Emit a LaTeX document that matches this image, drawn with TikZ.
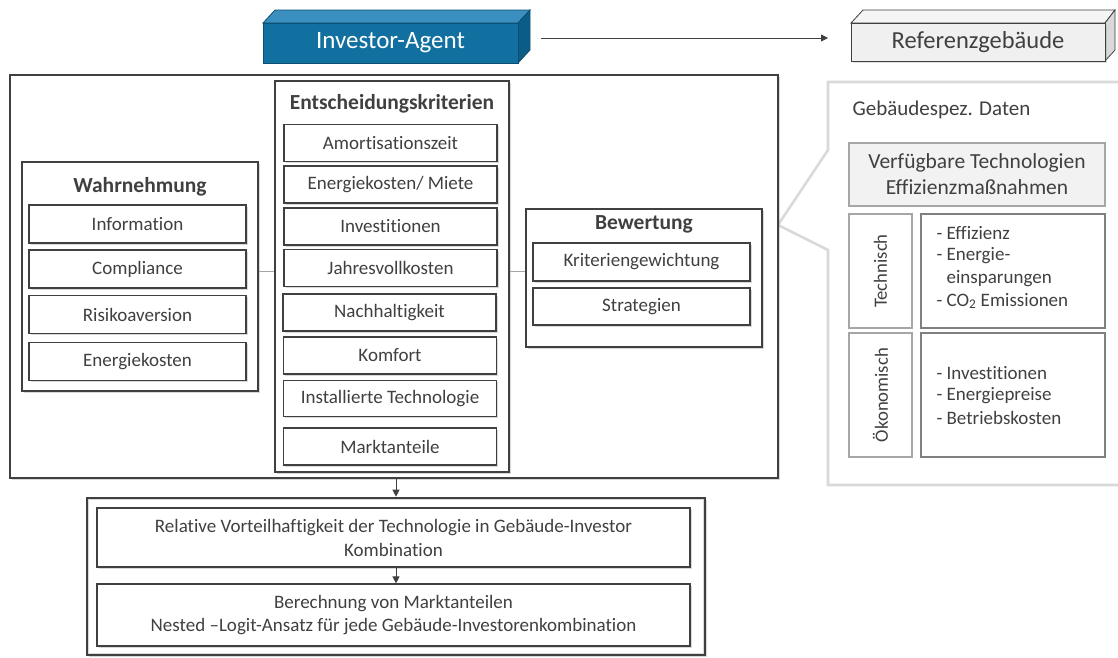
\documentclass[tikz,border=0pt]{standalone}
\usepackage{fontspec}
\setmainfont{Carlito}[Ligatures={NoCommon}]
\usetikzlibrary{arrows.meta,shadows,calc}
\definecolor{dk}{HTML}{404040}
\definecolor{txt}{HTML}{404040}
\definecolor{lgb}{HTML}{D9D9D9}
\definecolor{mgb}{HTML}{A6A6A6}
\definecolor{cgb}{HTML}{808080}
\definecolor{ivfront}{HTML}{1170A0}
\definecolor{ivtop}{HTML}{3A8FBE}
\definecolor{ivside}{HTML}{0B5C86}
\definecolor{ivline}{HTML}{0B4F75}
\tikzset{
  itembox/.style={draw=dk, line width=1.2pt, fill=white, text=txt, font=\fontsize{19}{22}\selectfont,
    drop shadow={shadow xshift=1.5pt, shadow yshift=-1.5pt, opacity=0.3}, inner sep=0pt},
  groupbox/.style={draw=dk, line width=2.6pt, fill=white,
    drop shadow={shadow xshift=1.5pt, shadow yshift=-1.5pt, opacity=0.3}, inner sep=0pt},
  titletext/.style={font=\bfseries\fontsize{21.5}{24}\selectfont, text=txt},
  thinline/.style={draw=gray!70, line width=1pt},
  arr/.style={draw=dk, line width=0.9pt, -{Triangle[length=7pt,width=7pt]}},
  greybox/.style={draw=mgb, line width=2.4pt, inner sep=0pt, text=txt},
  contbox/.style={draw=cgb, line width=2.4pt, fill=white, inner sep=0pt},
  listtext/.style={font=\fontsize{19}{22}\selectfont, text=txt, anchor=west},
}
\begin{document}
\begin{tikzpicture}[x=1pt,y=-1pt]
\path[use as bounding box, clip] (0,0) rectangle (1118,657);
\fill[white] (0,0) rectangle (1118,657);

% ---------- Investor-Agent 3D box
\fill[ivtop, draw=ivline, line width=0.8pt] (263,23) -- (275,10) -- (530,10) -- (518,23) -- cycle;
\fill[ivside, draw=ivline, line width=0.8pt] (518,23) -- (530,10) -- (530,50) -- (518,63) -- cycle;
\node[draw=ivline, line width=0.8pt, fill=ivfront, minimum width=255pt, minimum height=40pt, inner sep=0pt,
  text=white, font=\fontsize{25}{28}\selectfont] (investor) at (390.5,43) {Investor-Agent};

% ---------- Referenzgebaeude 3D box
\fill[white!96!black, draw=dk, line width=0.8pt] (851,23) -- (863,10) -- (1115,10) -- (1105,23) -- cycle;
\fill[lgb, draw=dk, line width=0.8pt] (1105,23) -- (1115,10) -- (1115,50) -- (1105,61) -- cycle;
\node[draw=dk, line width=0.8pt, fill=white!94!black, minimum width=254pt, minimum height=38pt, inner sep=0pt,
  text=txt, font=\fontsize{24.5}{28}\selectfont,
  drop shadow={shadow xshift=1.5pt, shadow yshift=-1.5pt, opacity=0.25}] (ref) at (978,42) {Referenzgebäude};

\coordinate (arrs) at (541,38);
\coordinate (arre) at (828,38);
\draw[draw=dk, line width=0.8pt, -{Triangle[length=7pt,width=7pt]}] (arrs) -- (arre);

% ---------- right callout panel
\draw[draw=lgb, line width=2.6pt, fill=white, line join=miter]
  (828,150) -- (828,82) -- (1125,82) -- (1125,485) -- (828,485) -- (828,250) -- (778,225) -- cycle;
\node[anchor=west, text=txt, font=\fontsize{21}{24}\selectfont] (gd) at (849,110) {Gebäudespez. Daten};
\node[greybox, fill=white!95!black, minimum width=256pt, minimum height=63pt, align=center,
  font=\fontsize{21.5}{26}\selectfont] (verf) at (977,174.5) {Verfügbare Technologien\\Effizienzmaßnahmen};
\node[greybox, fill=white, minimum width=63pt, minimum height=114pt] (tech) at (880.5,271) {};
\node[rotate=90, text=txt, font=\fontsize{18.7}{22}\selectfont] (techt) at (880.5,271) {Technisch};
\node[contbox, minimum width=184pt, minimum height=114pt] (techc) at (1013,271) {};
\node[listtext] (t1) at (933,233) {- Effizienz};
\node[listtext] (t2) at (933,256) {- Energie-};
\node[listtext] (t3) at (933,279) {\phantom{- }einsparungen};
\node[listtext] (t4) at (933,301) {- CO\textsubscript{2} Emissionen};
\node[greybox, fill=white, minimum width=63pt, minimum height=124pt] (oek) at (880.5,395) {};
\node[rotate=90, text=txt, font=\fontsize{18.7}{22}\selectfont] (oekt) at (880.5,395) {Ökonomisch};
\node[contbox, minimum width=184pt, minimum height=124pt] (oekc) at (1013,395) {};
\node[listtext] (o1) at (933,373) {- Investitionen};
\node[listtext] (o2) at (933,396) {- Energiepreise};
\node[listtext] (o3) at (933,418) {- Betriebskosten};

% ---------- main box
\node[groupbox, minimum width=768pt, minimum height=403pt] (main) at (394,276.5) {};

% Wahrnehmung
\node[groupbox, minimum width=236pt, minimum height=229pt] (wahr) at (140,276.5) {};
\node[titletext] (wahrt) at (140,187) {Wahrnehmung};
\node[itembox, minimum width=217pt, minimum height=38pt] (w1) at (137.5,224) {Information};
\node[itembox, minimum width=217pt, minimum height=38pt] (w2) at (137.5,269) {Compliance};
\node[itembox, minimum width=217pt, minimum height=38pt] (w3) at (137.5,314.5) {Risikoaversion};
\node[itembox, minimum width=217pt, minimum height=38pt] (w4) at (137.5,361.5) {Energiekosten};

% Entscheidungskriterien
\node[groupbox, minimum width=234pt, minimum height=391pt] (ent) at (392,276.5) {};
\node[titletext] (entt) at (392,104) {Entscheidungskriterien};
\node[itembox, minimum width=213pt, minimum height=37pt] (e1) at (390.5,143) {Amortisationszeit};
\node[itembox, minimum width=213pt, minimum height=37pt] (e2) at (390.5,184.5) {Energiekosten/ Miete};
\node[itembox, minimum width=213pt, minimum height=37pt] (e3) at (390.5,226.5) {Investitionen};
\node[itembox, minimum width=213pt, minimum height=37pt] (e4) at (390.5,268) {Jahresvollkosten};
\node[itembox, minimum width=213pt, minimum height=37pt] (e5) at (389.5,312.5) {Nachhaltigkeit};
\node[itembox, minimum width=213pt, minimum height=37pt] (e6) at (390,355.5) {Komfort};
\node[itembox, minimum width=213pt, minimum height=36pt] (e7) at (390,398.5) {Installierte Technologie};
\node[itembox, minimum width=213pt, minimum height=37pt] (e8) at (390,446.5) {Marktanteile};

% Bewertung
\node[groupbox, minimum width=236pt, minimum height=138pt] (bew) at (644,278) {};
\node[titletext] (bewt) at (644,224) {Bewertung};
\node[itembox, minimum width=217pt, minimum height=38pt] (b1) at (641.5,262) {Kriteriengewichtung};
\node[itembox, minimum width=217pt, minimum height=37pt] (b2) at (641.5,306.5) {Strategien};

% connectors between groups
\draw[thinline] (wahr.east |- 0,271) -- (ent.west |- 0,271);
\draw[thinline] (ent.east |- 0,271) -- (bew.west |- 0,271);

% ---------- bottom block
\node[groupbox, minimum width=618pt, minimum height=157pt] (outer) at (396,576.5) {};
\draw[lgb, line width=1pt] ($(outer.north west)+(3,3)$) rectangle ($(outer.south east)+(-3,-3)$);
\node[itembox, minimum width=593pt, minimum height=59pt, align=center, font=\fontsize{19}{24}\selectfont]
  (rel) at (393.5,537.5) {Relative Vorteilhaftigkeit der Technologie in Gebäude-Investor\\Kombination};
\node[itembox, minimum width=593pt, minimum height=62pt, align=center, font=\fontsize{19}{23}\selectfont]
  (ber) at (393.5,615) {Berechnung von Marktanteilen\\Nested –Logit-Ansatz für jede Gebäude-Investorenkombination};

\coordinate (ax) at (396,0);
\draw[arr] (main.south -| ax) -- (outer.north -| ax);
\draw[arr] (rel.south -| ax) -- (ber.north -| ax);
\end{tikzpicture}
\end{document}
